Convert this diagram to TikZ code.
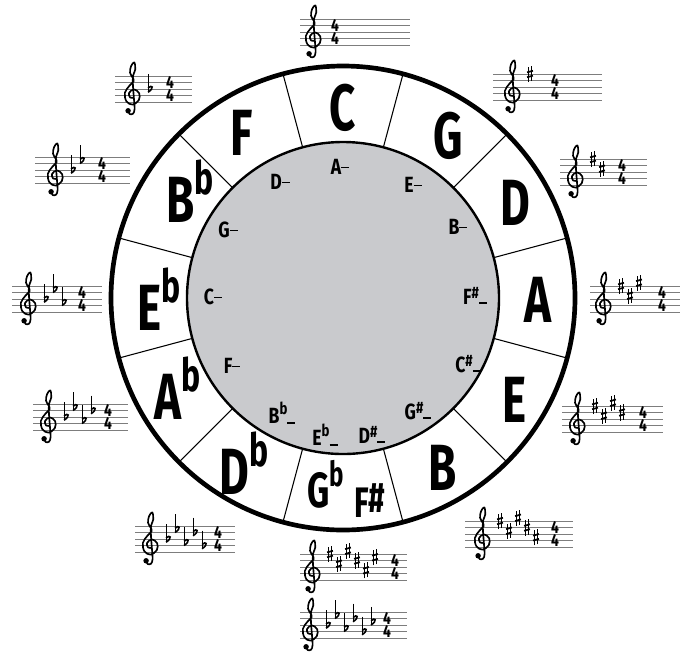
\documentclass[tikz,border=0pt]{standalone}
\usepackage{fontspec}
\setmainfont{Fira Sans}
\usetikzlibrary{calc}
\definecolor{disk}{RGB}{201,202,205}
\definecolor{staffgray}{RGB}{125,125,125}
\newcommand\bigL[2][49]{\scalebox{0.7}[1]{\fontsize{#1}{#1}\selectfont\bfseries #2}}
\newcommand\fl{\raisebox{0.42em}{\scalebox{0.7}{b}}}
\newcommand\shp{\raisebox{0.1em}{\#}}
\newcommand\mn[1]{\scalebox{0.8}[1]{\fontsize{16.5}{16.5}\selectfont\bfseries #1}}
\newcommand\md{\rule[0.28em]{0.45em}{1.4pt}}
\newcommand\lo{\rule[0em]{0.45em}{1.4pt}}
\newcommand\sfl{\raisebox{0.4em}{\scalebox{0.75}{b}}}
\newcommand\ssh{\raisebox{0.25em}{\scalebox{0.75}{\#}}}
\newcommand\sharpsign[2]{%
  \draw[line width=0.6pt] (#1-0.2,#2-1.25) -- (#1-0.2,#2+1.1) (#1+0.2,#2-1.1) -- (#1+0.2,#2+1.25);
  \draw[line width=1.3pt] (#1-0.45,#2-0.5) -- (#1+0.45,#2-0.25) (#1-0.45,#2+0.25) -- (#1+0.45,#2+0.5);}
\newcommand\flatsign[2]{%
  \draw[line width=0.65pt] (#1-0.3,#2+2.3) -- (#1-0.3,#2-0.5);
  \draw[line width=1.2pt] (#1-0.3,#2+0.15) .. controls (#1+0.3,#2+0.75) and (#1+0.75,#2+0.2) .. (#1-0.3,#2-0.5);}
\tikzset{
  trebleclef/.pic={
    \fill (-0.6,-1.35) circle (0.42);
    \draw[line width=1.25pt, line cap=round, line join=round] plot[smooth, tension=0.6] coordinates
      {(-0.6,-1.35) (-0.35,-1.85) (0.15,-1.8) (0.4,-1.1) (0.3,0.5) (0.15,2.5) (0.15,4.0) (0.5,5.0) (0.35,6.1) (-0.15,5.5) (-0.3,4.5) (0.1,3.75) (0.25,3.2) (-0.4,2.5) (-1.1,1.4) (-0.85,0.1) (0.1,-0.4) (1.05,0.3) (1.1,1.35) (0.3,1.95) (-0.45,1.4) (-0.3,0.7) (0.25,0.65)};
  },
  staffline/.style={draw=staffgray, line width=0.6pt},
  tsig/.style={inner sep=0pt, align=center, font=\fontsize{13}{9.75}\selectfont\bfseries, xscale=0.8},
  bigletter/.style={inner sep=0pt, anchor=base},
  minor/.style={inner sep=0pt},
  sector/.style={line width=0.8pt},
}
% name, x0, x1, yc, clefx, type s/f, n, tsx
\newcommand\keystaff[8]{%
  \foreach \k in {-2,...,2} \draw[staffline] (#2,#4+\k*6.5) -- (#3,#4+\k*6.5);
  \begin{scope}[shift={({#5*0.75pt},{-(#4+13)*0.75pt})}, x=4.875pt, y=4.875pt]
    \pic {trebleclef};
    \ifnum#7>0
    \foreach \i in {1,...,#7}{
      \pgfmathsetmacro\X{(18+(\i-1)*9)/6.5}
      \if#6s
        \pgfmathsetmacro\H{{4,2.5,4.5,3,1.5,3.5,2}[\i-1]}
        \sharpsign{\X}{\H}
      \else
        \pgfmathsetmacro\H{{2,3.5,1.5,3,1,2.5,0.5}[\i-1]}
        \flatsign{\X}{\H}
      \fi
    }
    \fi
  \end{scope}
  \node[tsig] (#1ts) at (#8,#4) {4\\4};
}
\begin{document}
\begin{tikzpicture}[x=0.75pt, y=-0.75pt]
\useasboundingbox (0,0) rectangle (680,651);
\coordinate (c) at (343,298);
\node[circle, draw, line width=3.5pt, minimum size=348pt, inner sep=0pt, outer sep=0pt] (outer) at (c) {};
\node[circle, draw, fill=disk, line width=1.8pt, minimum size=234pt, inner sep=0pt, outer sep=0pt] (inner) at (c) {};
\foreach \a in {15,45,...,345} \draw[sector] (inner.\a) -- (outer.\a);
% major keys
\node[bigletter] (C) at (343,130) {\bigL{C}};
\node[bigletter] (G) at (448,158) {\bigL{G}};
\node[bigletter] (D) at (515,225) {\bigL{D}};
\node[bigletter] (A) at (538,322) {\bigL{A}};
\node[bigletter] (E) at (515,422) {\bigL{E}};
\node[bigletter] (B) at (443,490) {\bigL{B}};
\node[bigletter] (F) at (242,155) {\bigL{F}};
\node[bigletter] (Bb) at (190,222) {\bigL{B\fl}};
\node[bigletter] (Eb) at (159,330) {\bigL{E\fl}};
\node[bigletter] (Ab) at (178,419) {\bigL{A\fl}};
\node[bigletter] (Db) at (244,494) {\bigL{D\fl}};
\node[bigletter] (Gb) at (326,507) {\bigL[37]{G\fl}};
\node[bigletter] (Fs) at (370,517) {\bigL[32]{F\shp}};
% minor keys
\node[minor] (am) at (340,167) {\mn{A\md}};
\node[minor] (dm) at (280,182) {\mn{D\md}};
\node[minor] (gm) at (228,230) {\mn{G\md}};
\node[minor] (cm) at (213,297) {\mn{C\md}};
\node[minor] (fm) at (232,366) {\mn{F\md}};
\node[minor] (bbm) at (282,413) {\mn{B\sfl\lo}};
\node[minor] (ebm) at (325,435) {\mn{E\sfl\lo}};
\node[minor] (dsm) at (372,435) {\mn{D\ssh\lo}};
\node[minor] (gsm) at (418,411) {\mn{G\ssh\lo}};
\node[minor] (csm) at (468,364) {\mn{C\ssh\lo}};
\node[minor] (fsm) at (475,296) {\mn{F\ssh\lo}};
\node[minor] (bm) at (458,227) {\mn{B\md}};
\node[minor] (em) at (413,185) {\mn{E\md}};
% key signatures
\keystaff{sc}{300}{410}{32}{313}{s}{0}{335}
\keystaff{sg}{493}{602}{87}{512}{s}{1}{555}
\keystaff{sd}{560}{647}{172}{575}{s}{2}{622}
\keystaff{sa}{590}{680}{299}{603}{s}{3}{662}
\keystaff{se}{562}{663}{419}{577}{s}{4}{643}
\keystaff{sb}{465}{573}{534}{482}{s}{5}{555}
\keystaff{sfs}{300}{407}{567}{312}{s}{6}{395}
\keystaff{sgb}{300}{407}{625}{310}{f}{6}{387}
\keystaff{sdb}{135}{235}{539}{150}{f}{5}{218}
\keystaff{sab}{33}{128}{417}{48}{f}{4}{108}
\keystaff{seb}{12}{102}{299}{28}{f}{3}{82}
\keystaff{sbb}{35}{130}{170}{55}{f}{2}{102}
\keystaff{sf}{115}{192}{89}{132}{f}{1}{170}
\end{tikzpicture}
\end{document}
